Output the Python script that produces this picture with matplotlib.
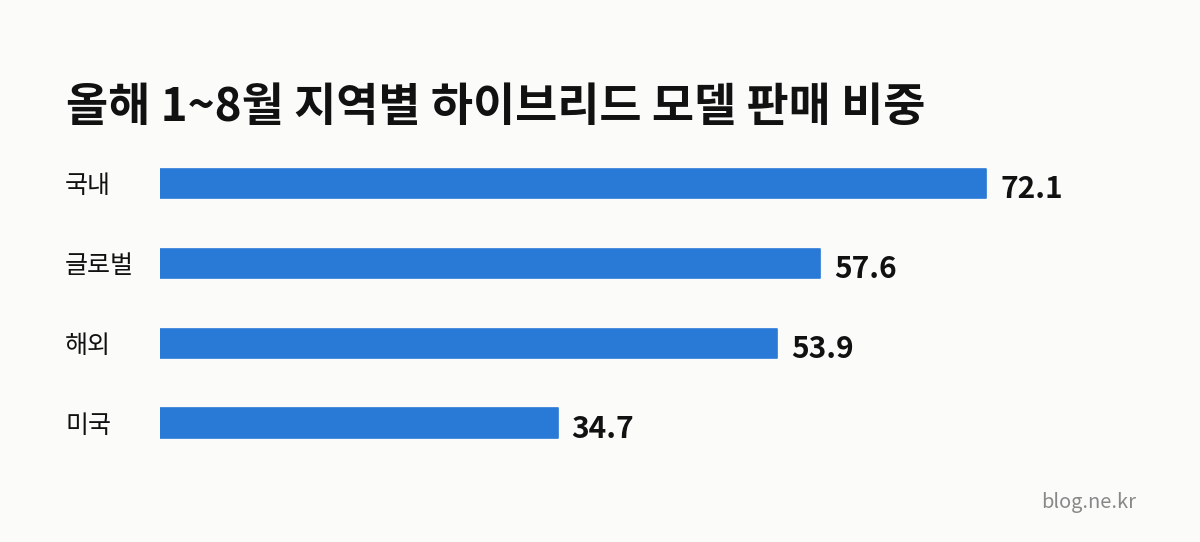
import matplotlib
matplotlib.use("Agg")
import matplotlib.pyplot as plt
from matplotlib.transforms import blended_transform_factory, offset_copy

plt.rcParams['font.family'] = ['Noto Sans CJK KR', 'DejaVu Sans']

title = "올해 1~8월 지역별 하이브리드 모델 판매 비중"
categories = ["국내", "글로벌", "해외", "미국"]
values = [72.1, 57.6, 53.9, 34.7]
source = "blog.ne.kr"

W, H = 1200, 542
fig = plt.figure(figsize=(12, 5.42), dpi=100)
bg = "#fbfbf9"
fig.patch.set_facecolor(bg)

ax_left, ax_right = 160, 1200
row_top, row_bot = 143.5, 463
ax = fig.add_axes([ax_left / W, (H - row_bot) / H, (ax_right - ax_left) / W, (row_bot - row_top) / H])
ax.set_facecolor(bg)
px_per_unit = (986 - 160) / 72.1
ax.set_xlim(0, (ax_right - ax_left) / px_per_unit)
ax.set_ylim(len(categories) - 0.5, -0.5)
ax.axis("off")

ys = list(range(len(categories)))
ax.barh(ys, values, height=0.365, color="#2979d6", edgecolor="#2979d6",
        linewidth=1.2, joinstyle="round")

for y, v in zip(ys, values):
    ax.annotate(f"{v}", xy=(v, y), xytext=(14, -6), textcoords="offset pixels",
                ha="left", va="center", fontsize=21.5, fontweight="bold", color="#111111")

tr = blended_transform_factory(fig.transFigure, ax.transData)
tr = offset_copy(tr, fig=fig, x=0, y=-3, units="dots")
for y, c in zip(ys, categories):
    fig.text(65 / W, y, c, transform=tr, ha="left", va="center", fontsize=18, color="#111111")

fig.text(66 / W, (H - 121) / H, title, ha="left", va="baseline", fontsize=33,
         fontweight="bold", color="#111111")
fig.text(1136 / W, (H - 508) / H, source, ha="right", va="baseline", fontsize=14.4, color="#888888")

fig.savefig("out.png", dpi=100, facecolor=bg)
